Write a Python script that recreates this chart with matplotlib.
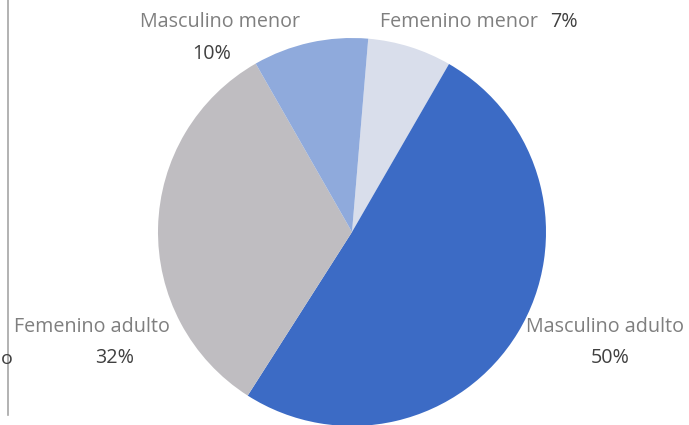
import matplotlib.pyplot as plt

# slices, clockwise from the top
categories = ['Femenino menor', 'Masculino adulto', 'Femenino adulto', 'Masculino menor']
shares = [7.0, 50.7, 32.7, 9.6]
pct_labels = ['7%', '50%', '32%', '10%']
colors = ['#D9DEEB', '#3C6BC5', '#BFBDC1', '#8FAADC']

plt.rcParams['font.family'] = ['Open Sans', 'DejaVu Sans']

fig = plt.figure(figsize=(6.89, 4.25), dpi=100)
ax = fig.add_axes([0, 0, 1, 1])

ax.pie(shares, colors=colors, startangle=85.2, counterclock=False,
       center=(352, 193), radius=194, frame=True,
       wedgeprops=dict(linewidth=0))
ax.set_xlim(0, 689)
ax.set_ylim(0, 425)
ax.set_aspect('equal')
ax.axis('off')

# left border line of the chart area
ax.plot([8, 8], [10, 425], color='#A6A6A6', linewidth=1.2)
ax.text(7, 66, 'o', ha='center', va='center', fontsize=14, color='#404040')

name_color = '#7F7F7F'
pct_color = '#404040'
fs = 14.2

# Masculino menor
ax.text(220, 403, categories[3], ha='center', va='center', fontsize=fs, color=name_color)
ax.text(212, 371, pct_labels[3], ha='center', va='center', fontsize=fs, color=pct_color)
# Femenino menor
ax.text(380, 403, categories[0], ha='left', va='center', fontsize=fs, color=name_color)
ax.text(578, 403, pct_labels[0], ha='right', va='center', fontsize=fs, color=pct_color)
# Femenino adulto
ax.text(92, 98, categories[2], ha='center', va='center', fontsize=fs, color=name_color)
ax.text(115, 67, pct_labels[2], ha='center', va='center', fontsize=fs, color=pct_color)
# Masculino adulto
ax.text(605, 98, categories[1], ha='center', va='center', fontsize=fs, color=name_color)
ax.text(610, 67, pct_labels[1], ha='center', va='center', fontsize=fs, color=pct_color)

fig.savefig('out.png', dpi=100)
